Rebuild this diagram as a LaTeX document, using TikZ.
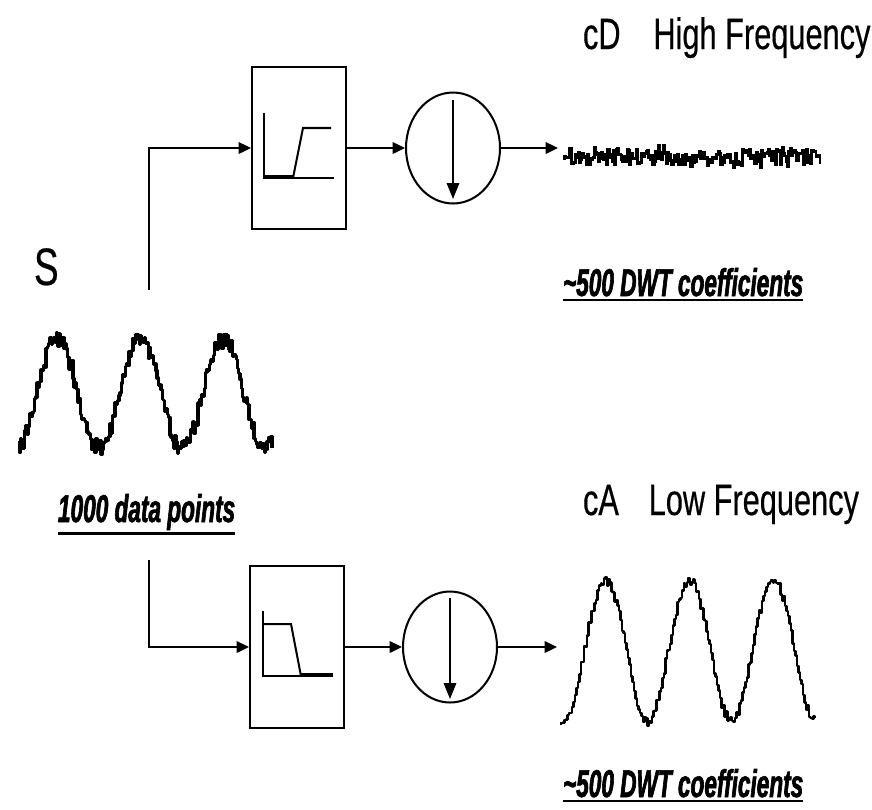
\documentclass[tikz,border=0pt]{standalone}
\usepackage{fontspec}
\usetikzlibrary{arrows.meta,shapes.geometric}
\newfontfamily\headfont{Liberation Sans}[FakeStretch=0.70, FakeBold=0.4]
\newfontfamily\notefont{Liberation Sans Bold Italic}[FakeStretch=0.585, FakeBold=1.6]
\newcommand{\ulthick}[1]{\vtop{\hbox{#1}\kern1.3pt\hrule height 1.5pt}}
\begin{document}
\begin{tikzpicture}[
            x=0.02cm, y=-0.02cm,
            line width=1.15pt,
            filter/.style={
                rectangle,
                draw,
                minimum width=1.88cm,
                minimum height=3.24cm,
                inner sep=0pt
            },
            downsample/.style={
                ellipse,
                draw,
                minimum width=1.88cm,
                minimum height=2.22cm,
                inner sep=0pt
            },
            flow/.style={-{Triangle[length=7pt,width=6.5pt]}},
            heading/.style={anchor=base west, inner sep=0pt,
                font=\headfont\fontsize{25}{26}\selectfont},
            note/.style={anchor=base west, inner sep=0pt,
                font=\notefont\fontsize{22}{23}\selectfont}
        ]
            \useasboundingbox (0,0) rectangle (872,809);
            \pgfmathsetseed{2718}

            % input signal
            \node[anchor=base west, inner sep=0pt,
                font=\headfont\fontsize{30}{31}\selectfont] (S) at (33,285) {S};
            \draw[line width=1.9pt, line join=round] plot[const plot, domain=18:272, samples=200]
                (\x, {394 - 55*cos(4.337*(\x-57)) + 9*rand});
            \node[note] (npts) at (57,522) {\ulthick{1000 data points}};

            \coordinate (tapH) at (149,290);
            \coordinate (tapL) at (149,560);

            % high pass branch
            \node[filter] (hpf) at (299,148) {};
            \node[downsample] (dsH) at (453,148) {};
            \coordinate (cDin) at (558,148);

            \begin{scope}[shift={(hpf.center)}]
                \draw (-35,-35) -- (-35,30) -- (35,30);
                \draw[line width=2.4pt] (-35,29) -- (-6,29);
                \draw (-6,30) -- (4,-20) -- (32,-20);
            \end{scope}
            \draw[-{Triangle[length=9pt,width=7pt]}] (453,100) -- (453,199);

            \draw[flow] (tapH) |- (hpf);
            \draw[flow] (hpf) -- (dsH);
            \draw[flow] (dsH) -- (cDin);

            \draw[line width=1.6pt] plot[const plot, domain=563:820, samples=190]
                (\x, {157 + 8*rand + 10*rand*rand*rand});
            \node[heading] (cD) at (582,49) {cD\hspace{18.7pt}High Frequency};
            \node[note] (cDnum) at (562,296) {\ulthick{\textasciitilde500 DWT coefficients}};

            % low pass branch
            \node[filter] (lpf) at (297,647) {};
            \node[downsample] (dsL) at (450,647) {};
            \coordinate (cAin) at (557,647);

            \begin{scope}[shift={(lpf.center)}]
                \draw (-34,-36) -- (-34,29) -- (36,29);
                \draw (-34,-23) -- (-6,-23) -- (4,29);
                \draw[line width=2.4pt] (4,28) -- (36,28);
            \end{scope}
            \draw[-{Triangle[length=9pt,width=7pt]}] (450,598) -- (450,699);

            \draw[flow] (tapL) |- (lpf);
            \draw[flow] (lpf) -- (dsL);
            \draw[flow] (dsL) -- (cAin);

            \draw[line width=1.4pt, line join=round] plot[const plot, domain=560:815, samples=170]
                (\x, {651 - 70*cos(4.286*(\x-605)) + 5*rand});
            \node[heading] (cA) at (582,515) {cA\hspace{17pt}Low Frequency};
            \node[note] (cAnum) at (562,797) {\ulthick{\textasciitilde500 DWT coefficients}};

        \end{tikzpicture}
\end{document}
